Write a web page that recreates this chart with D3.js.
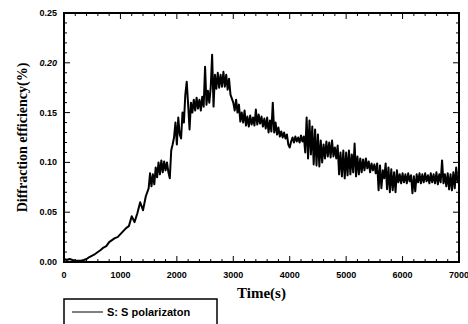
<!DOCTYPE html>
<html>
<head>
<meta charset="utf-8">
<script src="https://cdn.jsdelivr.net/npm/d3@7"></script>
<style>
  body { margin: 0; background: #fff; }
  svg { display: block; }
</style>
</head>
<body>
<script>
// sampling grid (s): every 50 s up to 1450, then every 25 s
const times = d3.range(0, 1500, 50).concat(d3.range(1500, 7001, 25));
// diffraction efficiency (%)
const efficiency = [
  // 0 - 1450
  0.003,0.002,0.003,0.002,0.0015,0.0012,0.0013,0.002,0.003,0.005,
  0.0065,0.008,0.010,0.012,0.0145,0.016,0.020,0.022,0.024,0.025,
  0.028,0.031,0.034,0.036,0.046,0.040,0.049,0.060,0.052,0.066,
  // 1500 - 2975
  0.074,0.089,0.076,0.088,0.078,0.095,0.085,0.100,0.088,0.102,
  0.090,0.101,0.092,0.100,0.090,0.084,0.112,0.118,0.125,0.140,
  0.118,0.145,0.128,0.124,0.150,0.140,0.168,0.181,0.158,0.133,
  0.160,0.150,0.163,0.152,0.165,0.154,0.163,0.152,0.166,0.156,
  0.196,0.158,0.172,0.160,0.175,0.208,0.156,0.188,0.174,0.190,
  0.175,0.188,0.176,0.191,0.176,0.188,0.173,0.184,0.168,0.164,
  // 3000 - 3975
  0.160,0.152,0.163,0.150,0.158,0.141,0.150,0.140,0.152,0.137,
  0.146,0.136,0.147,0.138,0.145,0.137,0.153,0.138,0.148,0.139,
  0.146,0.136,0.144,0.134,0.145,0.130,0.142,0.131,0.160,0.130,
  0.140,0.128,0.135,0.126,0.131,0.125,0.130,0.124,0.128,0.118,
  // 4000 - 4975
  0.115,0.121,0.125,0.120,0.126,0.121,0.125,0.120,0.127,0.121,
  0.126,0.110,0.145,0.104,0.142,0.108,0.136,0.098,0.133,0.097,
  0.128,0.096,0.122,0.100,0.118,0.104,0.121,0.106,0.120,0.105,
  0.122,0.106,0.115,0.104,0.117,0.088,0.110,0.086,0.112,0.084,
  // 5000 - 5975
  0.110,0.087,0.112,0.088,0.108,0.090,0.119,0.086,0.106,0.088,
  0.104,0.090,0.103,0.092,0.104,0.094,0.101,0.090,0.099,0.092,
  0.098,0.089,0.099,0.072,0.097,0.074,0.092,0.084,0.099,0.073,
  0.095,0.070,0.093,0.072,0.090,0.070,0.092,0.080,0.088,0.079,
  // 6000 - 6975
  0.089,0.080,0.088,0.079,0.089,0.081,0.087,0.069,0.086,0.071,
  0.088,0.080,0.089,0.079,0.088,0.080,0.089,0.081,0.087,0.079,
  0.089,0.080,0.088,0.079,0.090,0.078,0.088,0.080,0.102,0.079,
  0.088,0.076,0.089,0.073,0.088,0.072,0.090,0.074,0.095,0.080,
  // 7000
  0.085];
const xTicks = [0,1000,2000,3000,4000,5000,6000,7000];
const yTicks = [0.00,0.05,0.10,0.15,0.20,0.25];
const legendLabel = "S: S polarizaton";

const W = 468, H = 324;
const m = { left: 64, right: 9, top: 13, bottom: 62 };
const svg = d3.select("body").append("svg").attr("width", W).attr("height", H);

const x = d3.scaleLinear().domain([0, 7000]).range([m.left, W - m.right]);
const y = d3.scaleLinear().domain([0, 0.25]).range([H - m.bottom, m.top]);

// minor ticks
const xMinor = d3.range(0, 7001, 200);
const yMinor = d3.range(0, 0.2501, 0.01);

const g = svg.append("g").attr("stroke", "#000").attr("stroke-width", 1);
xMinor.forEach(v => {
  const len = xTicks.includes(v) ? 6 : 3;
  g.append("line").attr("x1", x(v)).attr("x2", x(v)).attr("y1", y(0)).attr("y2", y(0) - len);
  g.append("line").attr("x1", x(v)).attr("x2", x(v)).attr("y1", y(0.25)).attr("y2", y(0.25) + len);
});
yMinor.forEach((v, i) => {
  const len = i % 5 === 0 ? 6 : 3;
  g.append("line").attr("y1", y(v)).attr("y2", y(v)).attr("x1", x(0)).attr("x2", x(0) + len);
  g.append("line").attr("y1", y(v)).attr("y2", y(v)).attr("x1", x(7000)).attr("x2", x(7000) - len);
});

// data line
const pts = efficiency.map((v, i) => [times[i], v]).filter(d => d[0] !== undefined);
const line = d3.line().x(d => x(d[0])).y(d => y(d[1]));
svg.append("path").datum(pts)
  .attr("fill", "none").attr("stroke", "#000").attr("stroke-width", 2)
  .attr("stroke-linejoin", "round")
  .attr("d", line);

// frame
svg.append("rect").attr("x", x(0)).attr("y", y(0.25))
  .attr("width", x(7000) - x(0)).attr("height", y(0) - y(0.25))
  .attr("fill", "none").attr("stroke", "#000").attr("stroke-width", 2);

// tick labels
svg.append("g").selectAll("text").data(xTicks).join("text")
  .attr("x", d => x(d)).attr("y", y(0) + 16)
  .attr("text-anchor", "middle")
  .attr("font-family", "Liberation Sans, Arial, sans-serif")
  .attr("font-weight", "bold").attr("font-size", 9)
  .text(d => d);

svg.append("g").selectAll("text").data(yTicks).join("text")
  .attr("x", x(0) - 7).attr("y", d => y(d) + 3)
  .attr("text-anchor", "end")
  .attr("font-family", "Liberation Sans, Arial, sans-serif")
  .attr("font-weight", "bold").attr("font-size", 9)
  .attr("font-style", d => d === 0.20 ? "italic" : "normal")
  .text(d => d.toFixed(2));

// axis titles
svg.append("text")
  .attr("x", (x(0) + x(7000)) / 2).attr("y", 298)
  .attr("text-anchor", "middle")
  .attr("font-family", "Liberation Serif, Times New Roman, serif")
  .attr("font-weight", "bold").attr("font-size", 15)
  .text("Time(s)");

svg.append("text")
  .attr("transform", `translate(27,${(y(0) + y(0.25)) / 2}) rotate(-90)`)
  .attr("text-anchor", "middle")
  .attr("font-family", "Liberation Serif, Times New Roman, serif")
  .attr("font-weight", "bold").attr("font-size", 14)
  .text("Diffraction efficiency(%)");

// legend
const lg = svg.append("g");
lg.append("rect").attr("x", 64).attr("y", 299).attr("width", 153).attr("height", 40)
  .attr("fill", "none").attr("stroke", "#000").attr("stroke-width", 1.5);
lg.append("line").attr("x1", 72).attr("x2", 103).attr("y1", 312).attr("y2", 312)
  .attr("stroke", "#000").attr("stroke-width", 1);
lg.append("text").attr("x", 107).attr("y", 316)
  .attr("font-family", "Liberation Sans, Arial, sans-serif")
  .attr("font-weight", "bold").attr("font-size", 11)
  .text(legendLabel);
</script>
</body>
</html>
